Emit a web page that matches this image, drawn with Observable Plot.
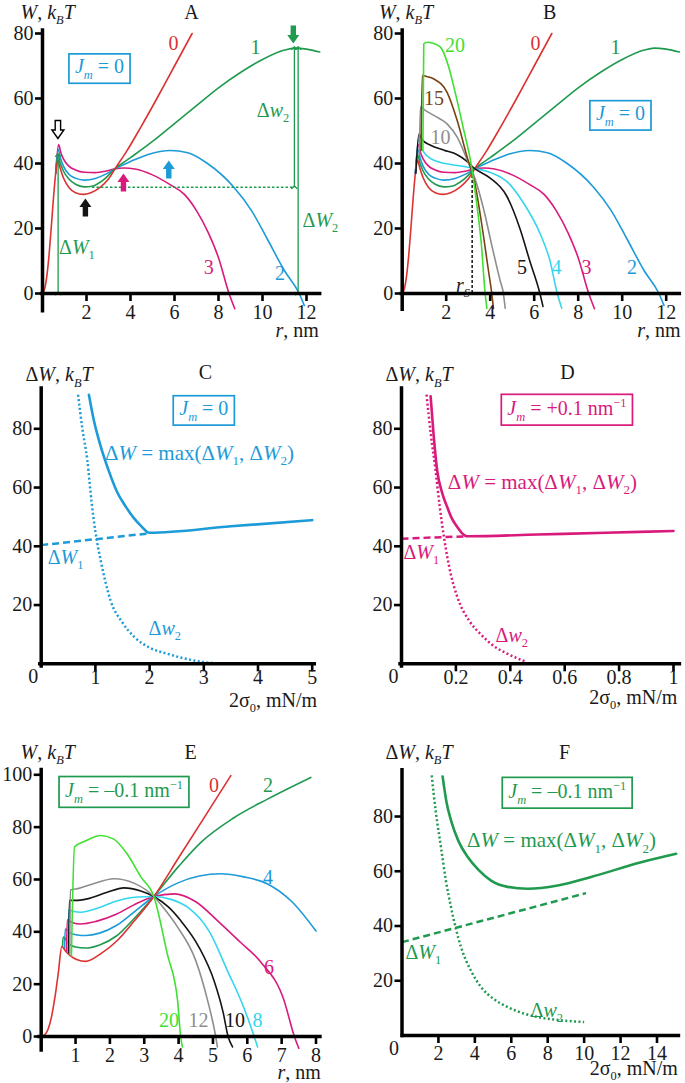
<!DOCTYPE html>
<html><head><meta charset="utf-8">
<script src="https://cdn.jsdelivr.net/npm/d3@7"></script>
<script src="https://cdn.jsdelivr.net/npm/@observablehq/plot@0.6"></script>
<style>
body{margin:0;background:#fff;}
#chart{position:relative;width:685px;height:1083px;overflow:hidden;background:#fff;}
#chart svg{position:absolute;left:0;top:0;overflow:visible;background:transparent;}
#chart svg text{font-family:"Liberation Serif","Times New Roman",serif !important;}
</style></head><body><div id="chart"></div>
<script>
// ---------- colours ----------
const RED="#dc3232", GREEN="#1f9a4f", BLUE="#1d9ad8", MAGENTA="#d91a7c", CYAN="#33d6ee",
      BLACK="#151515", GRAY="#8e8e8e", BROWN="#7b4214", LIME="#3fe032", INK="#1a1a1a";
const FONT="Liberation Serif";

// ---------- data: panels A & B, W(r) for sigma = 0..3 (shared) ----------
const AB_s0=[[0,0],[0.1,1.5],[0.2,5.5],[0.3,12],[0.4,20.5],[0.5,29.5],[0.6,37],[0.7,41],[0.8,38.6],[0.95,35.6],[1.2,32.6],[1.5,31],[1.85,30.5],[2.2,31],[2.6,32.6],[3.0,35.2],[3.3,38.4],[3.8,43.5],[4.47,51.2],[5.2,60],[6.0,70],[6.8,80]];
const AB_s1=[[0.6,37],[0.71,42.6],[0.8,40.3],[0.95,37.7],[1.2,35.2],[1.5,33.6],[1.9,32.8],[2.3,33.1],[2.8,35.1],[3.3,38.4],[4,41.8],[5,46.8],[6,52.3],[7,57.8],[8,63.3],[9,68],[10,72],[11,74.9],[11.45,75.5],[12,75.2],[12.6,74.3]];
const AB_s2=[[0.6,37],[0.72,44.3],[0.82,41.6],[0.95,39.2],[1.2,36.7],[1.5,35.5],[1.9,34.9],[2.4,35.4],[2.9,36.8],[3.3,38.4],[4,40.6],[4.8,42.8],[5.8,44],[6.6,43.3],[7.5,40],[8.7,32.7],[9.5,25.5],[10.2,17],[11,7],[11.67,0],[11.9,-3.7]];
const AB_s3=[[0.6,37],[0.73,45.8],[0.83,43.4],[0.95,41.4],[1.2,39.2],[1.5,38],[1.9,37.3],[2.4,37.2],[2.9,37.7],[3.3,38.4],[3.7,38.6],[4.2,38.3],[5,36.5],[5.8,33.5],[6.45,30.5],[7,25.5],[7.55,18.5],[8,11],[8.48,0],[8.74,-4.7]];
// panel B extra sigmas
const B_s4=[[0.6,37],[0.74,47.3],[0.85,45.2],[1.0,43.3],[1.3,41.5],[1.7,40.4],[2.2,39.7],[2.8,39.1],[3.3,38.4],[3.8,37.7],[4.3,36.4],[4.8,34.2],[5.5,28],[6.27,18.4],[6.7,10.5],[7.05,0],[7.25,-4.5]];
const B_s5=[[0.62,37],[0.76,49.1],[0.9,47.4],[1.29,45.6],[1.9,44.1],[2.5,42.7],[2.9,40.9],[3.3,38.4],[4,35.5],[4.75,30],[5.35,20],[5.8,10],[6.26,0],[6.4,-4]];
const B_s10=[[0.78,43],[0.83,57.5],[1.0,56.6],[1.44,54.8],[2.04,52.2],[2.5,48.1],[2.95,41.2],[3.3,35.5],[3.7,26],[4.1,14],[4.45,4],[4.6,0],[4.68,-4.5]];
const B_s15=[[0.86,44],[0.91,67.1],[1.1,66.8],[1.44,66],[2.04,61.9],[2.5,53.2],[2.95,42],[3.3,34],[3.6,22],[3.9,8],[4.07,0],[4.15,-4.6]];
const B_s20=[[0.94,44],[0.98,76.8],[1.15,77.3],[1.4,77],[1.74,75.8],[2.1,70],[2.35,63.5],[2.8,50.2],[3.1,41],[3.4,27],[3.6,15],[3.77,0],[3.85,-4.6]];

// ---------- data: panel E, W(r), Jm = -0.1 ----------
const E_s0=[[0,0],[0.1,0.6],[0.2,2.8],[0.3,7.5],[0.4,15],[0.5,24.5],[0.6,34.4],[0.7,32.8],[0.85,30.8],[1.05,29.3],[1.29,28.7],[1.73,31.6],[2.2,36.5],[2.7,44],[3.28,53.5],[4.0,68.3],[4.8,84.8],[5.52,99.7]];
const E_s2=[[0.62,34.3],[0.64,38],[0.8,35.5],[1.0,34.2],[1.29,33.8],[1.7,35],[2.2,38.5],[2.7,45],[3.28,53.5],[4.0,65],[4.65,74.2],[5.6,83.5],[6.6,90.8],[7.85,99]];
const E_s4=[[0.68,33.3],[0.7,41.1],[0.85,39.5],[1.05,38.8],[1.29,38.6],[1.7,39.5],[2.2,42.5],[2.7,47.5],[3.28,53.5],[4.0,58.8],[4.6,61.3],[5.23,62.2],[5.9,61],[6.59,58.3],[7.3,51.5],[8.0,40.3]];
const E_s6=[[0.74,32.6],[0.76,44.6],[0.9,43.6],[1.15,43],[1.6,44],[2.2,46.8],[2.7,50.3],[3.28,53.5],[3.87,54.5],[4.5,51.5],[5.13,44.3],[5.8,36],[6.39,28.5],[7.07,13.8],[7.37,0],[7.5,-4.5]];
const E_s8=[[0.78,32.3],[0.8,48.4],[0.95,47.8],[1.15,47.5],[1.7,49.3],[2.2,51.8],[2.8,53.3],[3.28,53.5],[3.8,52.3],[4.26,49.4],[4.9,40],[5.42,25.2],[5.9,11],[6.2,0],[6.3,-4]];
const E_s10=[[0.8,32],[0.82,52],[1.0,52],[1.34,52.6],[1.9,55],[2.41,56.8],[2.9,55.6],[3.28,53.5],[3.7,49.5],[4.06,44.3],[4.6,34],[5.03,21.4],[5.3,9],[5.44,0],[5.57,-4]];
const E_s12=[[0.83,31.5],[0.85,56],[1.1,56.6],[1.5,58.3],[2.12,60.3],[2.7,58.6],[3.28,53.5],[3.6,48.5],[3.97,41.8],[4.5,29],[4.84,14],[5.08,0],[5.13,-4]];
const E_s20=[[0.88,30.8],[0.97,72.4],[1.3,74.8],[1.73,76.8],[2.1,75.5],[2.5,69.8],[2.9,61],[3.28,53.5],[3.67,31.6],[3.97,13.8],[4.06,0],[4.11,-4]];

// ---------- data: panels C, D, F (barrier vs 2σ0) ----------
const C_dW=[[0.88,91.6],[0.97,83],[1.09,74.5],[1.25,65.5],[1.4,58.5],[1.56,53.5],[1.71,49.6],[1.85,46.8],[1.99,44.6],[3.5,46.8],[5.0,48.9]];
const C_dW1=[[0,40.4],[1.99,44.4]];
const C_dw2=[[0.68,91.6],[0.76,80],[0.85,69.4],[0.93,55],[1.0,45],[1.1,35],[1.28,21.5],[1.5,14],[1.72,9.1],[2.0,5.5],[2.33,3.4],[2.65,1.8],[2.95,0.7],[3.4,0]];
const D_dW=[[0.107,91.1],[0.118,78],[0.131,65.9],[0.15,58],[0.168,53.4],[0.185,49.5],[0.205,46.6],[0.222,44.5],[0.241,43.4],[0.5,44],[0.75,44.6],[1.0,45.2]];
const D_dW1=[[0,42.6],[0.241,43.4]];
const D_dw2=[[0.092,91.6],[0.108,78],[0.125,66],[0.14,54],[0.156,43.2],[0.18,31],[0.205,22.8],[0.25,14.5],[0.29,10.2],[0.34,6],[0.39,3.4],[0.46,0.6]];
const F_dW=[[2.23,94.6],[2.45,85],[2.69,78.6],[3.1,71],[3.61,65.2],[4.2,60.5],[4.89,56.6],[5.8,54.3],[6.9,53.6],[8.55,54.8],[10.38,57.9],[13.13,63.3],[15.05,66.4]];
const F_dW1=[[0,34.1],[10.1,52]];
const F_dw2=[[1.63,95],[1.85,82],[2.14,68.8],[2.4,57],[2.69,46.9],[3.24,32.3],[3.8,23.5],[4.34,17.7],[5.0,13.5],[5.8,10.4],[6.7,8],[7.64,6.5],[8.8,5.5],[10.0,4.9]];

// ---------- tick values ----------
const ticksR12=[2,4,6,8,10,12], ticksW80=[0,20,40,60,80], ticksW80b=[20,40,60,80];
const ticksC=[1,2,3,4,5], ticksD=[0.2,0.4,0.6,0.8,1], ticksE=[1,2,3,4,5,6,7,8], ticksW100=[0,20,40,60,80,100], ticksF=[2,4,6,8,10,12,14];

// ---------- annotations ----------
const A_level=[{x1:2.27,x2:11.45,y:32.7}];
const A_spans=[{x:11.45,y1:32.7,y2:75.5},{x:11.62,y1:0,y2:75.5},{x:0.71,y1:0,y2:42.6}];
const A_up=[{x:1.95,y:29.2,c:BLACK},{x:3.68,y:36.9,c:MAGENTA},{x:5.74,y:40.9,c:BLUE}];
const A_downFilled=[{x:11.4,y:76.9,c:GREEN}];
const A_downHollow=[{x:0.7,y:47.7}];
const B_rs=[{x:3.18,y1:0,y2:38.4}];

// ---------- labels ----------
const A_labels=[
 {x:6.77,y:86.5,t:"A",c:INK},{x:-1.0,y:86.5,t:"*W*, *k*_{*B*}*T*",c:INK,a:"start"},{x:12.56,y:-11.4,t:"*r*, nm",c:INK,a:"end"},
 {x:5.95,y:76.9,t:"0",c:RED},{x:9.68,y:75.7,t:"1",c:GREEN},{x:10.8,y:6,t:"2",c:BLUE},{x:7.56,y:8.1,t:"3",c:MAGENTA},
 {x:10.48,y:56.3,t:"Δ*w*_{2}",c:GREEN},{x:11.82,y:22.5,t:"Δ*W*_{2}",c:GREEN,a:"start"},{x:0.75,y:14.2,t:"Δ*W*_{1}",c:GREEN,a:"start"},
 {x:2.59,y:69.7,t:"§*J*_{*m*} = 0",c:BLUE}];
const B_labels=[
 {x:6.7,y:86.5,t:"B",c:INK},{x:-1.06,y:86.5,t:"*W*, *k*_{*B*}*T*",c:INK,a:"start"},{x:12.65,y:-11.4,t:"*r*, nm",c:INK,a:"end"},
 {x:2.4,y:76.3,t:"20",c:LIME},{x:6.06,y:76.8,t:"0",c:RED},{x:9.7,y:75.8,t:"1",c:GREEN},{x:1.44,y:59.9,t:"15",c:BROWN},{x:1.74,y:48.1,t:"10",c:GRAY},
 {x:5.45,y:8.1,t:"5",c:BLACK},{x:7.01,y:8.1,t:"4",c:CYAN},{x:8.38,y:8.1,t:"3",c:MAGENTA},{x:10.45,y:8.1,t:"2",c:BLUE},
 {x:3.08,y:2.5,t:"*r*_{*S*}",c:INK,a:"end"},{x:9.92,y:55.3,t:"§*J*_{*m*} = 0",c:BLUE}];
const C_labels=[
 {x:3.03,y:99.1,t:"C",c:INK},{x:-0.29,y:98.4,t:"Δ*W*, *k*_{*B*}*T*",c:INK,a:"start"},{x:5.09,y:-12.5,t:"2σ_{0}, mN/m",c:INK,a:"end"},
 {x:2.92,y:71.8,t:"Δ*W* = max(Δ*W*_{1}, Δ*W*_{2})",c:BLUE,s:21},{x:0.12,y:36.3,t:"Δ*W*_{1}",c:BLUE,a:"start"},{x:1.98,y:12.1,t:"Δ*w*_{2}",c:BLUE,a:"start"},
 {x:3.0,y:86.8,t:"§*J*_{*m*} = 0",c:BLUE}];
const D_labels=[
 {x:0.61,y:99.1,t:"D",c:INK},{x:-0.059,y:98.4,t:"Δ*W*, *k*_{*B*}*T*",c:INK,a:"start"},{x:1.014,y:-11.4,t:"2σ_{0}, mN/m",c:INK,a:"end"},
 {x:0.518,y:61.9,t:"Δ*W* = max(Δ*W*_{1}, Δ*W*_{2})",c:MAGENTA,s:21},{x:0.007,y:38,t:"Δ*W*_{1}",c:MAGENTA,a:"start"},{x:0.346,y:9.7,t:"Δ*w*_{2}",c:MAGENTA,a:"start"},
 {x:0.608,y:86.8,t:"§*J*_{*m*} = +0.1 nm^{−1}",c:MAGENTA}];
const E_labels=[
 {x:4.35,y:108.5,t:"E",c:INK},{x:-0.6,y:108.5,t:"*W*, *k*_{*B*}*T*",c:INK,a:"start"},{x:8.14,y:-13.8,t:"*r*, nm",c:INK,a:"end"},
 {x:5.03,y:95.9,t:"0",c:RED},{x:6.6,y:95.9,t:"2",c:GREEN},{x:6.6,y:60.8,t:"4",c:BLUE},{x:6.63,y:26.4,t:"6",c:MAGENTA},
 {x:3.72,y:6.1,t:"20",c:LIME},{x:4.58,y:6.1,t:"12",c:GRAY},{x:5.64,y:6.1,t:"10",c:BLACK},{x:6.3,y:6.1,t:"8",c:CYAN},
 {x:2.41,y:93.8,t:"§*J*_{*m*} = –0.1 nm^{−1}",c:GREEN}];
const F_labels=[
 {x:8.93,y:103.3,t:"F",c:INK},{x:-0.91,y:103.3,t:"Δ*W*, *k*_{*B*}*T*",c:INK,a:"start"},{x:15.14,y:-12,t:"2σ_{0}, mN/m",c:INK,a:"end"},
 {x:8.76,y:71.2,t:"Δ*W* = max(Δ*W*_{1}, Δ*W*_{2})",c:GREEN,s:21},{x:0.19,y:30.3,t:"Δ*W*_{1}",c:GREEN,a:"start"},{x:7.06,y:9.1,t:"Δ*w*_{2}",c:GREEN,a:"start"},
 {x:9.07,y:89,t:"§*J*_{*m*} = –0.1 nm^{−1}",c:GREEN}];

// ---------- helpers ----------
const tickDown={draw(c){c.moveTo(0,0);c.lineTo(0,7.5);}};
const tickLeft={draw(c){c.moveTo(0,0);c.lineTo(-7.5,0);}};
const blockUp={draw(c){c.moveTo(0,0);c.lineTo(6,8.5);c.lineTo(2.7,8.5);c.lineTo(2.7,18);c.lineTo(-2.7,18);c.lineTo(-2.7,8.5);c.lineTo(-6,8.5);c.closePath();}};
const blockDown={draw(c){c.moveTo(0,0);c.lineTo(6,-8.5);c.lineTo(2.7,-8.5);c.lineTo(2.7,-18);c.lineTo(-2.7,-18);c.lineTo(-2.7,-8.5);c.lineTo(-6,-8.5);c.closePath();}};

const pts=a=>a.map(([x,y])=>({x,y}));
function curve(a,stroke,o={}){
  return Plot.line(pts(a),{x:"x",y:"y",stroke,strokeWidth:o.w??1.6,strokeDasharray:o.dash,
    strokeLinecap:o.cap??"round",strokeLinejoin:"round",curve:o.curve??"monotone-x"});
}
function labelMarks(list){
  const out=[];
  for(const a of ["middle","start","end"]) for(const s of [20,21]){
    const sub=list.filter(d=>(d.a??"middle")===a&&(d.s??20)===s);
    if(sub.length) out.push(Plot.text(sub,{x:"x",y:"y",text:"t",fill:"c",textAnchor:a,fontSize:s,fontFamily:FONT}));
  }
  return out;
}
function axisMarks(P){
  const m=[
    Plot.ruleY([0],{x1:P.xExt[0],x2:P.xExt[1],stroke:"#000",strokeWidth:3.5}),
    Plot.ruleX([0],{y1:P.yExt[0],y2:P.yExt[1],stroke:"#000",strokeWidth:3.5}),
    Plot.dot(P.xTicks,{x:d=>d,y:0,symbol:tickDown,fill:"none",stroke:"#000",strokeWidth:2.6}),
    Plot.dot(P.yTicks,{x:0,y:d=>d,symbol:tickLeft,fill:"none",stroke:"#000",strokeWidth:2.6}),
    Plot.text(P.xTicks,{x:d=>d,y:0,text:d=>String(d),dy:P.xdy,fontSize:20,fontFamily:FONT,fill:INK}),
    Plot.text(P.yTicks,{x:0,y:d=>d,text:d=>String(d),dx:-9,textAnchor:"end",fontSize:20,fontFamily:FONT,fill:INK})
  ];
  if(P.xZero) m.push(Plot.text([0],{x:0,y:0,text:d=>String(d),dx:-8,dy:13,fontSize:20,fontFamily:FONT,fill:INK}));
  return m;
}
function parseRich(s){
  const runs=[];let italic=false,mode=null,buf="";
  const flush=()=>{if(buf){runs.push({t:buf,italic,mode});buf="";}};
  for(let i=0;i<s.length;i++){
    const ch=s[i];
    if(ch==="*"){flush();italic=!italic;}
    else if((ch==="_"||ch==="^")&&s[i+1]==="{"){flush();mode=ch==="_"?"sub":"sup";i++;}
    else if(ch==="}"&&mode){flush();mode=null;}
    else buf+=ch;
  }
  flush();return runs;
}
const NS="http://www.w3.org/2000/svg";
function richify(root){
  root.querySelectorAll("text").forEach(t=>{
    t.style.fontFamily='"Liberation Serif","Times New Roman",serif';
    let s=t.textContent;let box=false;
    if(s.startsWith("§")){box=true;s=s.slice(1);t.setAttribute("data-box","1");}
    if(!box&&!/[*]|_\{|\^\{/.test(s))return;
    while(t.firstChild)t.removeChild(t.firstChild);
    let shift=0;
    for(const r of parseRich(s)){
      const ts=document.createElementNS(NS,"tspan");
      ts.textContent=r.t;
      if(r.italic)ts.setAttribute("font-style","italic");
      const target=r.mode==="sub"?0.27:r.mode==="sup"?-0.42:0;
      const scale=r.mode?0.62:1;
      if(r.mode)ts.setAttribute("font-size",(scale*100)+"%");
      const delta=target-shift;
      if(Math.abs(delta)>1e-6)ts.setAttribute("dy",(delta/scale).toFixed(3)+"em");
      shift=target;
      t.appendChild(ts);
    }
  });
}

// ---------- panels ----------
const panels=[
 {xDomain:[0,12],xRange:[42,306],yDomain:[0,80],yRange:[293,33],xExt:[-0.1,12.7],yExt:[-6,81.5],
  xTicks:ticksR12,yTicks:ticksW80,xdy:19,labels:A_labels,
  marks:()=>[
   curve(AB_s3,MAGENTA),curve(AB_s2,BLUE),curve(AB_s1,GREEN),curve(AB_s0,RED),
   Plot.ruleY(A_level,{x1:"x1",x2:"x2",y:"y",stroke:GREEN,strokeWidth:1.3,strokeDasharray:"2.5,2"}),
   Plot.link(A_spans,{x1:"x",x2:"x",y1:"y1",y2:"y2",stroke:GREEN,strokeWidth:1.3,markerStart:"arrow",markerEnd:"arrow"}),
   Plot.dot(A_up,{x:"x",y:"y",symbol:blockUp,fill:"c",stroke:"none"}),
   Plot.dot(A_downFilled,{x:"x",y:"y",symbol:blockDown,fill:"c",stroke:"none"}),
   Plot.dot(A_downHollow,{x:"x",y:"y",symbol:blockDown,fill:"white",stroke:"#000",strokeWidth:1.4})
  ]},
 {xDomain:[0,12],xRange:[401.7,665.7],yDomain:[0,80],yRange:[293,33],xExt:[-0.1,12.7],yExt:[-5.5,81.5],
  xTicks:ticksR12,yTicks:ticksW80,xdy:19,labels:B_labels,
  marks:()=>[
   Plot.ruleX(B_rs,{x:"x",y1:"y1",y2:"y2",stroke:BLACK,strokeWidth:1.5,strokeDasharray:"3,2"}),
   curve(AB_s2,BLUE),curve(AB_s1,GREEN),curve(AB_s0,RED),curve(AB_s3,MAGENTA),curve(B_s4,CYAN),curve(B_s5,BLACK),
   curve(B_s10,GRAY),curve(B_s15,BROWN),curve(B_s20,LIME)
  ]},
 {xDomain:[0,5],xRange:[40.7,311.7],yDomain:[0,80],yRange:[663.3,428.3],xExt:[-0.05,5.08],yExt:[-1.5,94.3],
  xTicks:ticksC,yTicks:ticksW80b,xdy:14,xZero:true,labels:C_labels,
  marks:()=>[
   curve(C_dw2,BLUE,{w:2.5,dash:"2,2.4",cap:"butt"}),curve(C_dW1,BLUE,{w:2.5,dash:"7,4",cap:"butt",curve:"linear"}),curve(C_dW,BLUE,{w:2.6})
  ]},
 {xDomain:[0,1],xRange:[401,673],yDomain:[0,80],yRange:[663.3,428.3],xExt:[-0.01,1.03],yExt:[-1.5,94.3],
  xTicks:ticksD,yTicks:ticksW80b,xdy:14,xZero:true,labels:D_labels,
  marks:()=>[
   curve(D_dw2,MAGENTA,{w:2.5,dash:"2,2.4",cap:"butt"}),curve(D_dW1,MAGENTA,{w:2.5,dash:"7,4",cap:"butt",curve:"linear"}),curve(D_dW,MAGENTA,{w:2.6})
  ]},
 {xDomain:[0,8],xRange:[40.7,315.5],yDomain:[0,100],yRange:[1036,774.3],xExt:[-0.1,8.18],yExt:[-6,102.5],
  xTicks:ticksE,yTicks:ticksW100,xdy:19,labels:E_labels,
  marks:()=>[
   curve(E_s4,BLUE),curve(E_s2,GREEN),curve(E_s0,RED),curve(E_s6,MAGENTA),curve(E_s8,CYAN),curve(E_s10,BLACK),curve(E_s12,GRAY),curve(E_s20,LIME)
  ]},
 {xDomain:[0,14],xRange:[401.5,656.5],yDomain:[0,80],yRange:[1035,816],xExt:[-0.05,15.3],yExt:[-0.8,97.5],
  xTicks:ticksF,yTicks:ticksW80b,xdy:18,xZero:true,labels:F_labels,
  marks:()=>[
   curve(F_dw2,GREEN,{w:2.5,dash:"2,2.4",cap:"butt"}),curve(F_dW1,GREEN,{w:2.5,dash:"7,4",cap:"butt",curve:"linear"}),curve(F_dW,GREEN,{w:2.6})
  ]}
];

const chart=document.getElementById("chart");
for(const P of panels){
  const svg=Plot.plot({
    width:685,height:1083,
    style:{fontFamily:'"Liberation Serif","Times New Roman",serif',background:"transparent",overflow:"visible"},
    x:{domain:P.xDomain,range:P.xRange,axis:null},
    y:{domain:P.yDomain,range:P.yRange,axis:null},
    color:{type:"identity"},
    marks:[...P.marks(),...axisMarks(P),...labelMarks(P.labels)]
  });
  svg.style.background="transparent";
  svg.style.position="absolute";svg.style.left="0px";svg.style.top="0px";svg.style.overflow="visible";
  svg.style.fontFamily='"Liberation Serif","Times New Roman",serif';
  richify(svg);
  chart.appendChild(svg);
}
// frame boxed labels
chart.querySelectorAll("text[data-box]").forEach(t=>{
  const bb=t.getBBox();
  const r=document.createElementNS(NS,"rect");
  r.setAttribute("x",bb.x-6);r.setAttribute("y",bb.y-1.5);
  r.setAttribute("width",bb.width+12);r.setAttribute("height",bb.height+3);
  if(t.getAttribute("transform"))r.setAttribute("transform",t.getAttribute("transform"));
  r.setAttribute("fill","none");r.setAttribute("stroke",getComputedStyle(t).fill);r.setAttribute("stroke-width","1.7");
  t.parentNode.insertBefore(r,t);
});
</script></body></html>
